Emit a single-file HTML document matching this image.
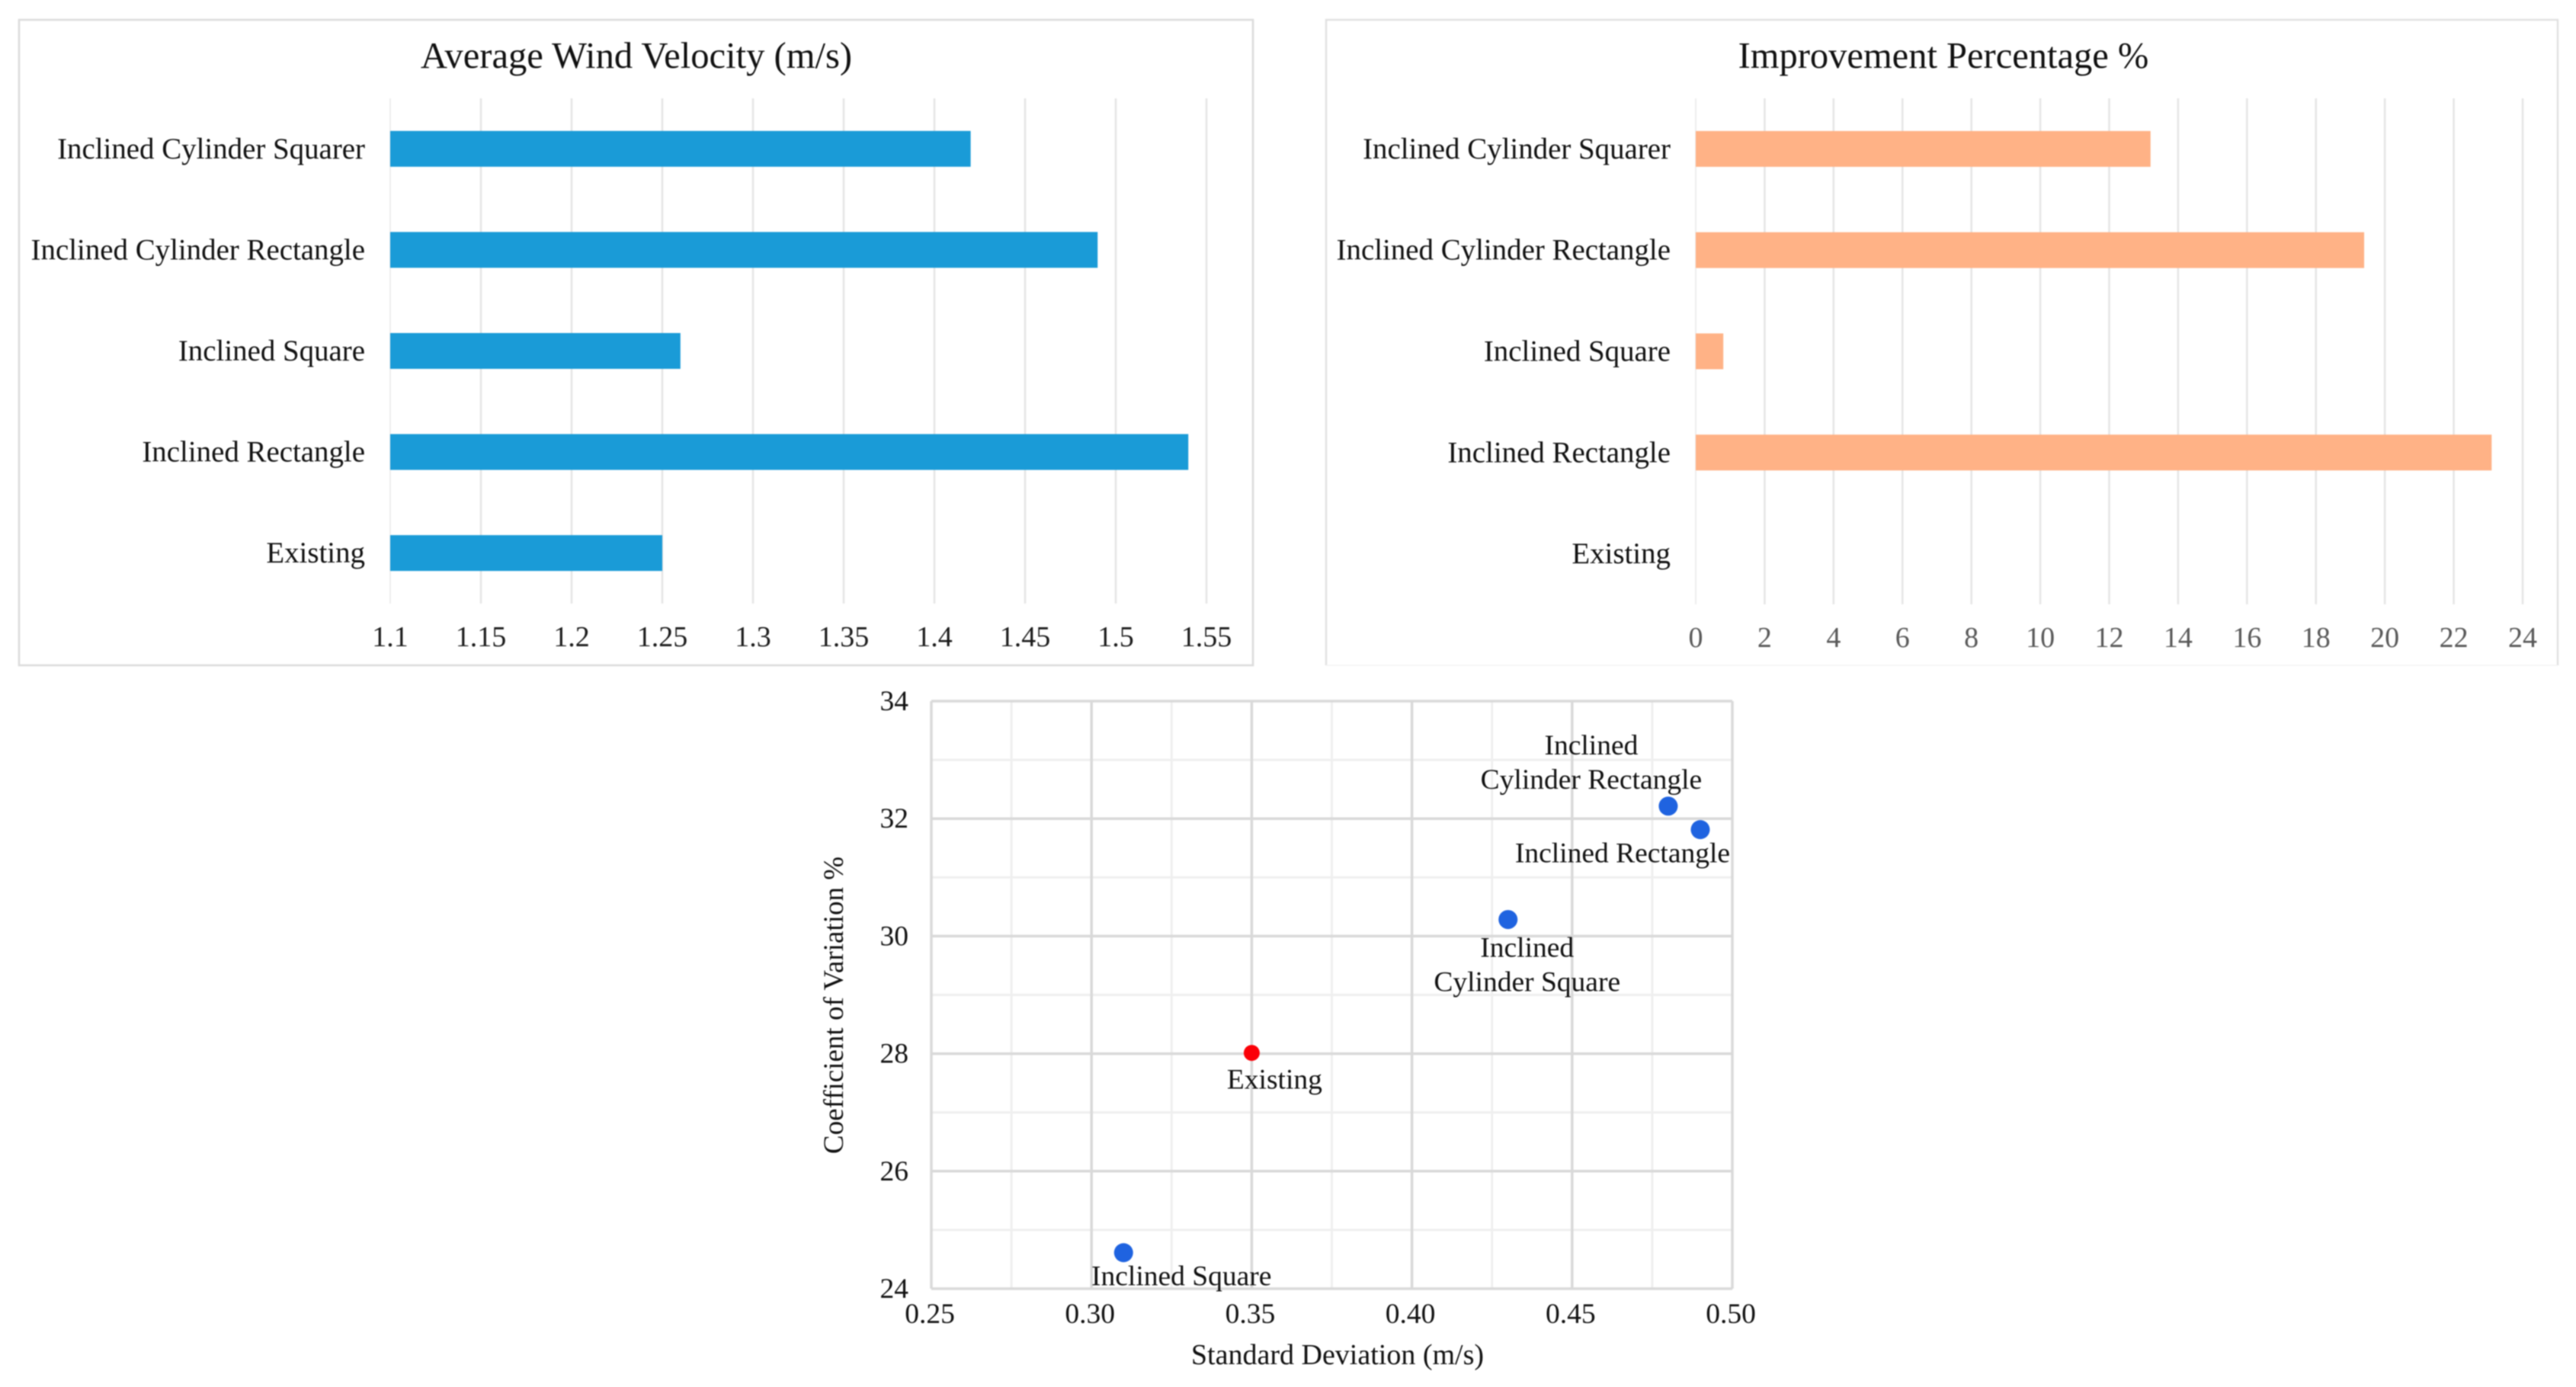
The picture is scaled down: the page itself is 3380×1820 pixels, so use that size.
<!DOCTYPE html>
<html lang="en">
<head>
<meta charset="utf-8">
<title>Wind velocity comparison charts</title>
<style>
  html, body { margin: 0; padding: 0; background: #fff; }
  body { width: 3380px; height: 1820px; overflow: hidden; }
  svg { display: block; filter: blur(0.7px); }
  text { font-family: "Liberation Serif", "Times New Roman", serif; fill: #111; }
</style>
</head>
<body>
<svg id="figure" xmlns="http://www.w3.org/2000/svg" width="3380" height="1820" viewBox="0 0 3380 1820">
  <rect x="0" y="0" width="3380" height="1820" fill="#fff"/>

  <g id="velocity-chart">
    <rect x="25" y="26" width="1619" height="847" fill="#fff" stroke="#dcdcdc" stroke-width="2.6"/>
    <text x="835" y="89" text-anchor="middle" font-size="48.6">Average Wind Velocity (m/s)</text>
  </g>

  <g id="improvement-chart">
    <path d="M1740 873 V26 H3356 V873" fill="#fff" stroke="#e2e2e2" stroke-width="2.6"/>
    <path d="M1740 873 H3356" fill="none" stroke="#f3f3f3" stroke-width="1.5"/>
    <text x="2550" y="89" text-anchor="middle" font-size="48.5">Improvement Percentage %</text>
  </g>

  <g id="scatter-chart">
    <text x="1755" y="1790" text-anchor="middle" font-size="38">Standard Deviation (m/s)</text>
    <text x="1106" y="1319" text-anchor="middle" font-size="37" transform="rotate(-90 1106 1319)">Coefficient of Variation %</text>
  </g>
</svg>

<script>
// ---------- chart data ----------
const barCategories = ['Inclined Cylinder Squarer', 'Inclined Cylinder Rectangle', 'Inclined Square', 'Inclined Rectangle', 'Existing'];
const velocityValues = [1.42, 1.49, 1.26, 1.54, 1.25];
const velocityTicks = [1.1, 1.15, 1.2, 1.25, 1.3, 1.35, 1.4, 1.45, 1.5, 1.55];
const velocityTickLabels = ['1.1', '1.15', '1.2', '1.25', '1.3', '1.35', '1.4', '1.45', '1.5', '1.55'];
const improvementValues = [13.2, 19.4, 0.8, 23.1, 0];
const improvementTicks = [0, 2, 4, 6, 8, 10, 12, 14, 16, 18, 20, 22, 24];
const improvementTickLabels = ['0', '2', '4', '6', '8', '10', '12', '14', '16', '18', '20', '22', '24'];

const scatterNames = ['Existing', 'Inclined Rectangle', 'Inclined Square', 'Inclined Cylinder Rectangle', 'Inclined Cylinder Square'];
const scatterDeviation = [0.35, 0.49, 0.31, 0.48, 0.43];
const scatterVariation = [28, 31.8, 24.6, 32.2, 30.27];
const scatterXTicks = [0.25, 0.30, 0.35, 0.40, 0.45, 0.50];
const scatterXTickLabels = ['0.25', '0.30', '0.35', '0.40', '0.45', '0.50'];
const scatterXMinorTicks = [0.275, 0.325, 0.375, 0.425, 0.475];
const scatterYTicks = [24, 26, 28, 30, 32, 34];
const scatterYTickLabels = ['24', '26', '28', '30', '32', '34'];
const scatterYMinorTicks = [25, 27, 29, 31, 33];

// ---------- helpers ----------
const NS = 'http://www.w3.org/2000/svg';
function make(parent, tag, props) {
  const el = document.createElementNS(NS, tag);
  for (const k in props) el.setAttribute(k, props[k]);
  parent.appendChild(el);
  return el;
}
function slug(s) {
  return String(s).toLowerCase().replace(/[^a-z0-9]+/g, '-');
}

// ---------- horizontal bar charts ----------
function drawBarChart(group, prefix, values, ticks, tickLabels, o) {
  const x = v => o.x0 + (v - ticks[0]) / (ticks[ticks.length - 1] - ticks[0]) * (o.x1 - o.x0);
  const band = (o.yBottom - o.yTop) / barCategories.length;
  const yc = i => o.yTop + band * (i + 0.5);

  ticks.forEach((t, i) => {
    const line = make(group, 'line', { x1: x(t), x2: x(t), y1: o.yTop, y2: o.yBottom, stroke: i === 0 ? '#eeeeee' : '#e6e6e6', 'stroke-width': i === 0 ? 2 : 2.6 });
    
    
    const label = make(group, 'text', { x: x(t), y: o.tickY, 'text-anchor': 'middle', 'font-size': 38, style: 'fill:' + o.tickColor });
    label.textContent = tickLabels[i];
    
    
  });

  barCategories.forEach((c, i) => {
    const label = make(group, 'text', { x: o.labelX, y: yc(i) + 12.5, 'text-anchor': 'end', 'font-size': 38.9 });
    label.textContent = c;
    
    
    if (values[i] > ticks[0]) {
      const bar = make(group, 'rect', { x: x(ticks[0]), y: yc(i) - 23.5, width: x(values[i]) - x(ticks[0]), height: 47, fill: o.barColor });
      
      
    }
  });
}

drawBarChart(document.getElementById('velocity-chart'), 'velocity', velocityValues, velocityTicks, velocityTickLabels, {
  x0: 512, x1: 1583, yTop: 129, yBottom: 792, tickY: 848, labelX: 479, barColor: '#1a9bd7', tickColor: '#1c1c1c'
});
drawBarChart(document.getElementById('improvement-chart'), 'improvement', improvementValues, improvementTicks, improvementTickLabels, {
  x0: 2225, x1: 3310, yTop: 129, yBottom: 793, tickY: 849, labelX: 2192, barColor: '#ffb286', tickColor: '#595959'
});

// ---------- scatter chart ----------
(function () {
  const group = document.getElementById('scatter-chart');
  const left = 1222, right = 2273, top = 920, bottom = 1691;
  const x = v => left + (v - 0.25) / 0.25 * (right - left);
  const y = v => bottom - (v - 24) / 10 * (bottom - top);

  scatterXMinorTicks.forEach(t => {
    const line = make(group, 'line', { x1: x(t), x2: x(t), y1: top, y2: bottom, stroke: '#efefef', 'stroke-width': 3 });
    
    
  });
  scatterYMinorTicks.forEach(t => {
    const line = make(group, 'line', { x1: left, x2: right, y1: y(t), y2: y(t), stroke: '#efefef', 'stroke-width': 3 });
    
    
  });
  scatterXTicks.forEach((t, i) => {
    const line = make(group, 'line', { x1: x(t), x2: x(t), y1: top, y2: bottom, stroke: '#d9d9d9', 'stroke-width': 3.5 });
    
    
    const label = make(group, 'text', { x: x(t) - 2, y: 1736, 'text-anchor': 'middle', 'font-size': 37.5 });
    label.textContent = scatterXTickLabels[i];
    
    
  });
  scatterYTicks.forEach((t, i) => {
    const line = make(group, 'line', { x1: left, x2: right, y1: y(t), y2: y(t), stroke: '#d9d9d9', 'stroke-width': 3.5 });
    
    
    const label = make(group, 'text', { x: 1192, y: y(t) + 12, 'text-anchor': 'end', 'font-size': 37.5 });
    label.textContent = scatterYTickLabels[i];
    
    
  });

  scatterNames.forEach((n, i) => {
    const isExisting = n === 'Existing';
    const dot = make(group, 'circle', { cx: x(scatterDeviation[i]), cy: y(scatterVariation[i]) - 1, r: isExisting ? 10.5 : 12.5, fill: isExisting ? '#fb0007' : '#1f63e0' });
    
    
  });

  function pointLabel(index, lines, dx, dy) {
    lines.forEach((line, j) => {
      const t = make(group, 'text', { x: x(scatterDeviation[index]) + dx, y: y(scatterVariation[index]) + dy + j * 45, 'text-anchor': 'middle', 'font-size': 37.5 });
      t.textContent = line;
      
      
    });
  }
  pointLabel(0, ['Existing'], 30, 46);
  pointLabel(1, ['Inclined Rectangle'], -102, 42);
  pointLabel(2, ['Inclined Square'], 76, 42);
  pointLabel(3, ['Inclined', 'Cylinder Rectangle'], -101, -69);
  pointLabel(4, ['Inclined', 'Cylinder Square'], 25, 48);
})();
</script>
</body>
</html>
